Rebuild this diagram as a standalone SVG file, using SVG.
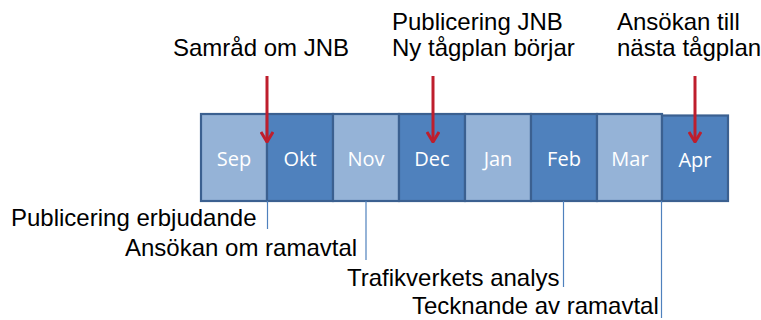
<svg xmlns="http://www.w3.org/2000/svg" width="761" height="320" viewBox="0 0 761 320">
<style>
  .light { fill: #95B3D7; stroke: #3B6090; stroke-width: 2.2; }
  .dark { fill: #4F81BD; stroke: #3B6090; stroke-width: 2.2; }
  .month { font-family: "Open Sans", "Liberation Sans", sans-serif; font-size: 20px; fill: #FFFFFF; text-anchor: middle; }
  .lbl { font-family: "Liberation Sans", Arial, sans-serif; font-size: 24px; fill: #000000; }
  .tick { stroke: #4F81BD; stroke-width: 1.2; fill: none; }
  .red { stroke: #BE1E2D; stroke-width: 3; fill: none; }
</style>
<defs>
  <marker id="chev" viewBox="0 0 12 14" refX="11" refY="7" markerWidth="12" markerHeight="14" markerUnits="userSpaceOnUse" orient="auto">
    <path d="M1,1 L11,7 L1,13" fill="none" stroke="#BE1E2D" stroke-width="3"/>
  </marker>
</defs>
<rect width="761" height="320" fill="#FFFFFF"/>

<g id="sep"><rect class="light" x="201" y="114" width="66" height="87"/><text class="month" x="234" y="166">Sep</text></g>
<g id="okt"><rect class="dark" x="267" y="114" width="66" height="87"/><text class="month" x="300" y="166">Okt</text></g>
<g id="nov"><rect class="light" x="333" y="114" width="66" height="87"/><text class="month" x="366" y="166">Nov</text></g>
<g id="dec"><rect class="dark" x="399" y="114" width="66" height="87"/><text class="month" x="432" y="166">Dec</text></g>
<g id="jan"><rect class="light" x="465" y="114" width="66" height="87"/><text class="month" x="498" y="166">Jan</text></g>
<g id="feb"><rect class="dark" x="531" y="114" width="66" height="87"/><text class="month" x="564" y="166">Feb</text></g>
<g id="mar"><rect class="light" x="597" y="114" width="65" height="87"/><text class="month" x="630" y="166">Mar</text></g>
<g id="apr"><rect class="dark" x="662" y="115.5" width="66" height="85.5" stroke-width="2.6"/><text class="month" x="695" y="167">Apr</text></g>

<g id="top-labels">
  <text class="lbl" x="173" y="56">Samråd om JNB</text>
  <text class="lbl" x="392" y="30">Publicering JNB</text>
  <text class="lbl" x="392" y="56">Ny tågplan börjar</text>
  <text class="lbl" x="617" y="30">Ansökan till</text>
  <text class="lbl" x="617" y="56">nästa tågplan</text>
</g>

<g id="bottom-labels">
  <text class="lbl" x="11" y="226">Publicering erbjudande</text>
  <text class="lbl" x="125" y="256">Ansökan om ramavtal</text>
  <text class="lbl" x="347" y="286">Trafikverkets analys</text>
  <text class="lbl" x="412" y="314">Tecknande av ramavtal</text>
</g>

<g id="connectors">
  <line class="red" x1="267" y1="76" x2="267" y2="142" marker-end="url(#chev)"/>
  <line class="red" x1="433" y1="76" x2="433" y2="142" marker-end="url(#chev)"/>
  <line class="red" x1="695" y1="76" x2="695" y2="142" marker-end="url(#chev)"/>
  <line class="tick" x1="267.5" y1="201" x2="267.5" y2="229"/>
  <line class="tick" x1="366" y1="201" x2="366" y2="260"/>
  <line class="tick" x1="563.5" y1="201" x2="563.5" y2="287"/>
  <line class="tick" x1="661.5" y1="201" x2="661.5" y2="318"/>
</g>
</svg>
